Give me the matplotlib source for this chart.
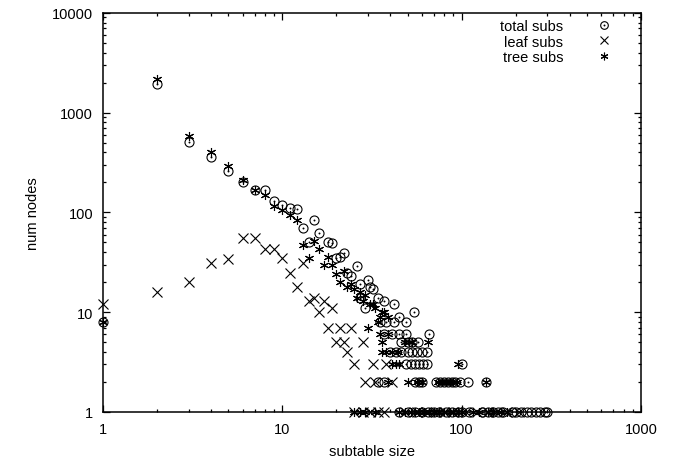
import numpy as np
import matplotlib.pyplot as plt
from matplotlib.legend_handler import HandlerTuple
from matplotlib.ticker import LogLocator, NullFormatter, FixedLocator

plt.rcParams['font.family'] = ['Liberation Sans', 'DejaVu Sans']

# nodes per subtable size, one pair of lists per series
total_size = [1, 2, 3, 4, 5, 6, 7, 8, 9, 10, 11, 12, 13, 14, 15, 16, 18, 19, 20, 21, 22,
              23, 24, 26, 27, 27, 29, 30, 31, 32, 34, 37, 42, 35, 38, 42, 45, 49, 54,
              37, 41, 45, 49, 66,
              46, 50, 53, 57,
              40, 43, 46, 50, 53, 56, 60, 64,
              49, 52, 55, 58, 61, 64, 100,
              34, 37, 55, 58, 60, 72, 76, 80, 84, 88, 92, 98, 108, 137,
              45, 50, 55, 60, 65, 70, 75, 82, 88, 95, 100, 110, 130, 140, 150, 160,
              170, 190, 200, 215, 230, 245, 260, 275, 290, 300]
total_count = [8, 1950, 510, 357, 262, 201, 169, 166, 131, 119, 110, 108, 70, 51, 84, 62, 50, 49, 35, 36, 39,
               25, 23, 29, 19, 14, 11, 21, 18, 17, 14, 13, 12, 8, 8, 8, 9, 8, 10,
               6, 6, 6, 6, 6,
               5, 5, 5, 5,
               4, 4, 4, 4, 4, 4, 4, 4,
               3, 3, 3, 3, 3, 3, 3,
               2, 2, 2, 2, 2, 2, 2, 2, 2, 2, 2, 2, 2, 2,
               1, 1, 1, 1, 1, 1, 1, 1, 1, 1, 1, 1, 1, 1, 1, 1,
               1, 1, 1, 1, 1, 1, 1, 1, 1, 1]

leaf_size = [1, 2, 3, 4, 5, 6, 7, 8, 9, 10, 11, 12, 13, 14, 15, 16, 17, 19, 18, 21, 24,
             20, 22, 28, 23, 25, 32, 38, 29, 33, 41,
             25, 28, 31, 34, 37, 48, 56, 63, 72, 80, 90, 106, 121, 140, 155, 180, 210]
leaf_count = [12, 16, 20, 31, 34, 55, 55, 43, 43, 35, 25, 18, 31, 13, 14, 10, 13, 11, 7, 7, 7,
              5, 5, 5, 4, 3, 3, 3, 2, 2, 2,
              1, 1, 1, 1, 1, 1, 1, 1, 1, 1, 1, 1, 1, 1, 1, 1, 1]

tree_size = [1, 2, 3, 4, 5, 6, 7, 8, 9, 10, 11, 12, 13, 14, 15, 16, 17, 18, 19, 20, 21,
             22, 23, 24, 25, 26, 27, 28, 29, 31, 32, 33, 34, 36, 37, 35, 39, 30,
             35, 39, 36, 48, 51, 53, 65, 36, 38, 41, 44,
             41, 43, 45, 96, 39, 50, 56, 60, 74, 78, 82, 86, 90, 94, 137,
             25, 27, 29, 33, 45, 48, 52, 55, 58, 62, 66, 70, 75, 80, 86, 90, 95, 100,
             115, 125, 140, 150, 165, 180]
tree_count = [8, 2200, 580, 400, 295, 213, 169, 150, 117, 106, 94, 84, 47, 35, 52, 43, 30, 36, 30, 24, 20,
              26, 18, 19, 17, 14, 16, 13, 15, 12, 12, 11, 8, 10, 10, 9, 9, 7,
              6, 6, 5, 5, 5, 5, 5, 4, 4, 4, 4,
              3, 3, 3, 3, 2, 2, 2, 2, 2, 2, 2, 2, 2, 2, 2,
              1, 1, 1, 1, 1, 1, 1, 1, 1, 1, 1, 1, 1, 1, 1, 1, 1, 1,
              1, 1, 1, 1, 1, 1]

fig = plt.figure(figsize=(6.73, 4.64), dpi=100)
ax = fig.add_axes([0.153, 0.110, 0.7995, 0.860])

ms = 6.5
lw = 0.8
circ, = ax.plot(total_size, total_count, 'o', ms=ms, mfc='none', mec='black', mew=lw, clip_on=False)
dot, = ax.plot(total_size, total_count, 'o', ms=1.4, mfc='black', mec='black', mew=0, clip_on=False)
leaf, = ax.plot(leaf_size, leaf_count, 'x', ms=ms, color='black', mew=lw, clip_on=False)
tree, = ax.plot(tree_size, tree_count, marker=(6, 2, 0), ls='none', ms=ms, color='black',
                mew=lw, clip_on=False)

ax.set_xscale('log')
ax.set_yscale('log')
ax.set_xlim(1, 1000)
ax.set_ylim(1, 10000)

ax.xaxis.set_major_locator(FixedLocator([1, 10, 100, 1000]))
ax.yaxis.set_major_locator(FixedLocator([1, 10, 100, 1000, 10000]))
ax.set_xticklabels(['1', '10', '100', '1000'])
ax.set_yticklabels(['1', '10', '100', '1000', '10000'])
for axis in (ax.xaxis, ax.yaxis):
    axis.set_minor_locator(LogLocator(base=10, subs=np.arange(2, 10)))
    axis.set_minor_formatter(NullFormatter())
ax.tick_params(which='both', direction='in', top=True, right=True, width=0.9, labelsize=10.5)
ax.tick_params(which='major', length=5, pad=7)
ax.tick_params(which='minor', length=2.5)
for sp in ax.spines.values():
    sp.set_linewidth(1.1)

ax.set_xlabel('subtable size', fontsize=10.5, labelpad=6)
ax.set_ylabel('num nodes', fontsize=10.5, labelpad=9)

leg = ax.legend([(circ, dot), leaf, tree], ['total subs', 'leaf subs', 'tree subs'],
                handler_map={tuple: HandlerTuple(ndivide=1)}, numpoints=1,
                loc='upper right', markerfirst=False, frameon=False, fontsize=10.5,
                handlelength=1.2, handletextpad=2.2, labelspacing=0.12,
                borderaxespad=0.0, bbox_to_anchor=(0.958, 1.0))
for h in leg.legend_handles:
    if hasattr(h, 'set_markersize') and h.get_markersize() > 2:
        h.set_markersize(5.5)

fig.savefig('out.png', dpi=100)
